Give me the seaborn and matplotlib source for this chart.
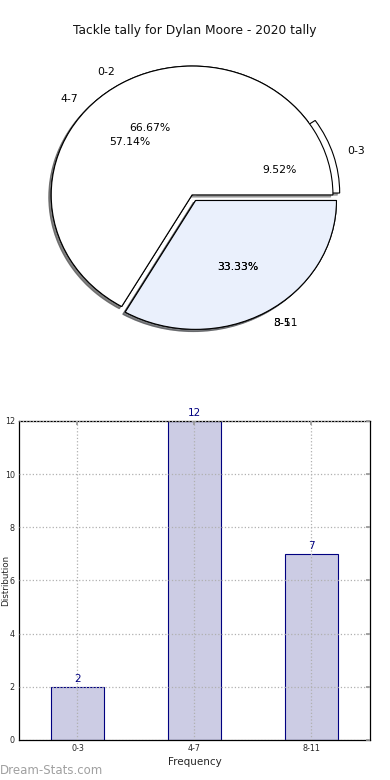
import matplotlib
matplotlib.use("Agg")
import matplotlib.pyplot as plt
import seaborn as sns
import pandas as pd

# ---- data ----
title = "Tackle tally for Dylan Moore - 2020 tally"
pie_a_labels = ["0-3", "4-7", "8-11"]
pie_a_values = [2, 12, 7]
pie_b_labels = ["0-2", "3-5"]
pie_b_values = [66.67, 33.33]
bar_categories = ["0-3", "4-7", "8-11"]
bar_values = [2, 12, 7]

sns.set_theme(style="white")
plt.rcParams['font.family'] = ['DejaVu Sans']

fig = plt.figure(figsize=(3.9, 7.8), dpi=100)

# ---- pie ----
ax1 = fig.add_axes([0.041, 0.5436, 0.903, 0.413])
wp = dict(edgecolor="black", linewidth=0.8)
shadow = dict(ox=-0.012, oy=-0.012, shade=0.65)
ax1.pie(pie_a_values, labels=pie_a_labels, autopct="%.2f%%",
        explode=[0.05, 0, 0.05], colors=["white", "white", "#eaf0fc"],
        shadow=shadow, startangle=0, wedgeprops=wp,
        textprops=dict(fontsize=7.8, color="black"))
ax1.pie(pie_b_values, labels=pie_b_labels, autopct="%.2f%%",
        explode=[0, 0.05], colors=["white", "#eaf0fc"],
        shadow=shadow, startangle=0, wedgeprops=wp,
        textprops=dict(fontsize=7.8, color="black"))
ax1.set_aspect("auto")
ax1.set_xlim(-1.25, 1.25)
ax1.set_ylim(-1.25, 1.25)
fig.text(0.5, 0.961, title, ha="center", va="center", fontsize=8.8, color="#111111")

# ---- bars ----
ax2 = fig.add_axes([0.0487, 0.0513, 0.9, 0.409])
df = pd.DataFrame({"cat": bar_categories, "val": bar_values})
sns.barplot(data=df, x="cat", y="val", ax=ax2, width=0.45, color="#ccccE4",
            saturation=1, edgecolor="#000080", linewidth=0.8, errorbar=None)
ax2.bar_label(ax2.containers[0], color="#000080", fontsize=7.5, padding=2)
ax2.set_xlim(-0.5, 2.5)
ax2.set_ylim(0, 12)
ax2.set_yticks(range(0, 13, 2))
ax2.grid(True, linestyle=":", color="#b0b0b0", linewidth=0.9)
ax2.set_axisbelow(False)
for s in ax2.spines.values():
    s.set_color("black")
    s.set_linewidth(0.9)
ax2.tick_params(axis="both", labelsize=5.8, direction="in", top=True, right=True,
                length=3, color="#999999", pad=3)
ax2.set_xlabel("Frequency", fontsize=7.5, labelpad=3)
ax2.set_ylabel("Distribution", fontsize=6.3)
ax2.yaxis.set_label_coords(-0.025, 0.5)

fig.text(0.0, 0.012, "Dream-Stats.com", fontsize=8.5, color="#a0a0a0", ha="left", va="center")

fig.savefig("out.png", dpi=100)
